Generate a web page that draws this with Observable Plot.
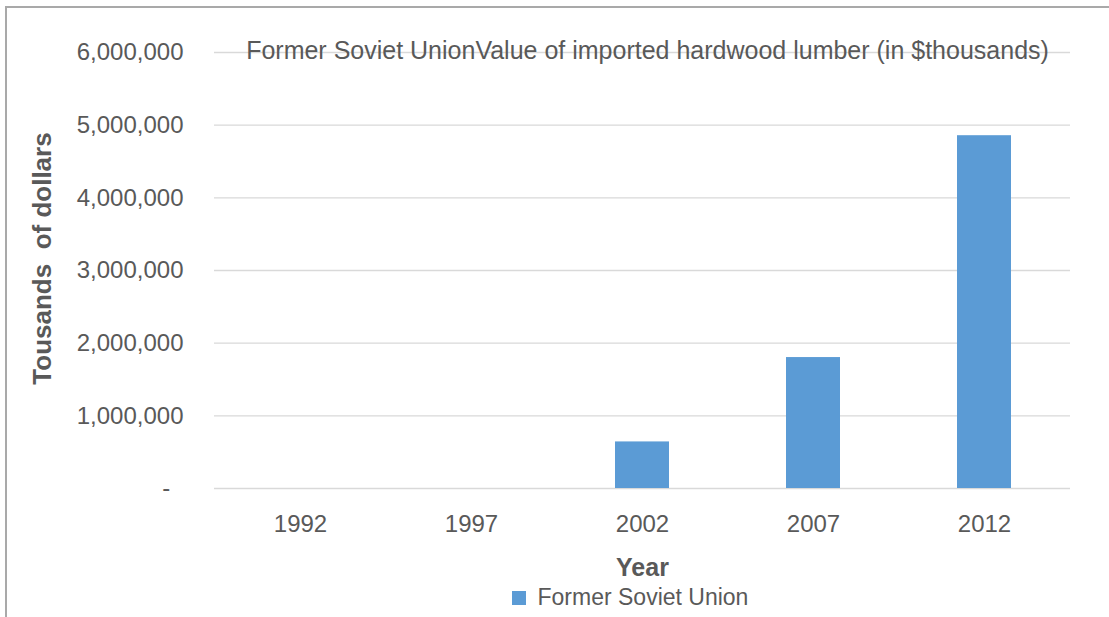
<!DOCTYPE html>
<html>
<head>
<meta charset="utf-8">
<script src="https://cdn.jsdelivr.net/npm/d3@7"></script>
<script src="https://cdn.jsdelivr.net/npm/@observablehq/plot@0.6"></script>
<style>
  html, body { margin: 0; padding: 0; background: #ffffff; }
  #wrap { position: relative; width: 1109px; height: 617px; overflow: hidden; background: #fff; }
  #frame { position: absolute; left: 5px; top: 6px; width: 1120px; height: 640px;
           border-left: 2px solid #a9a9a9; border-top: 2px solid #a9a9a9; pointer-events: none; }
  #legend { position: absolute; left: 512px; top: 581px; }
</style>
</head>
<body>
<div id="wrap">
  <div id="chart"></div>
  <div id="legend"></div>
  <div id="frame"></div>
</div>
<script>
const years = ["1992", "1997", "2002", "2007", "2012"];
const values = [0, 0, 641000, 1802000, 4855000];
const yTicks = [0, 1000000, 2000000, 3000000, 4000000, 5000000, 6000000];
const seriesName = "Former Soviet Union";
const titleText = "Former Soviet UnionValue of imported hardwood lumber (in $thousands)";
const yLabel = "Tousands  of dollars";
const xLabel = "Year";

const data = years.map((y, i) => ({year: y, value: values[i]}));
const barColor = "#5b9bd5";
const textColor = "#595959";
const font = "Liberation Sans, Arial, sans-serif";

const fmt = d3.format(",");

const chart = Plot.plot({
  width: 1109,
  height: 617,
  marginLeft: 214,
  marginRight: 39,
  marginTop: 52,
  marginBottom: 129,
  style: {fontFamily: font, background: "#fff", color: textColor},
  x: {domain: years, paddingInner: 0.685, paddingOuter: 0.3425, label: null},
  y: {domain: [0, 6000000], label: null},
  marks: [
    Plot.gridY(yTicks, {stroke: "#d9d9d9", strokeOpacity: 1, strokeWidth: 1.3}),
    Plot.barY(data, {x: "year", y: "value", fill: barColor}),
    Plot.axisX({tickSize: 0, tickPadding: 26, fontSize: 24, fill: textColor, label: null}),
    Plot.axisY(yTicks, {tickSize: 0, tickPadding: 31, fontSize: 24, fill: textColor, label: null,
      tickFormat: d => d === 0 ? "-\u00a0\u00a0" : fmt(d)}),
    Plot.text([titleText], {frameAnchor: "top", textAnchor: "middle", dy: -11, dx: 5, fontSize: 25, fill: textColor}),
    Plot.text([yLabel], {frameAnchor: "left", textAnchor: "middle", rotate: -90, dx: -172, dy: -12, fontSize: 26, fontWeight: "bold", fill: textColor}),
    Plot.text([xLabel], {frameAnchor: "bottom", textAnchor: "middle", dy: 87, fontSize: 25, fontWeight: "bold", fill: textColor})
  ]
});
document.getElementById("chart").appendChild(chart);

const legend = Plot.legend({
  color: {domain: [seriesName], range: [barColor]},
  swatchSize: 14,
  style: {fontFamily: font, fontSize: "23px", color: textColor, margin: 0}
});
document.getElementById("legend").appendChild(legend);
</script>
</body>
</html>
